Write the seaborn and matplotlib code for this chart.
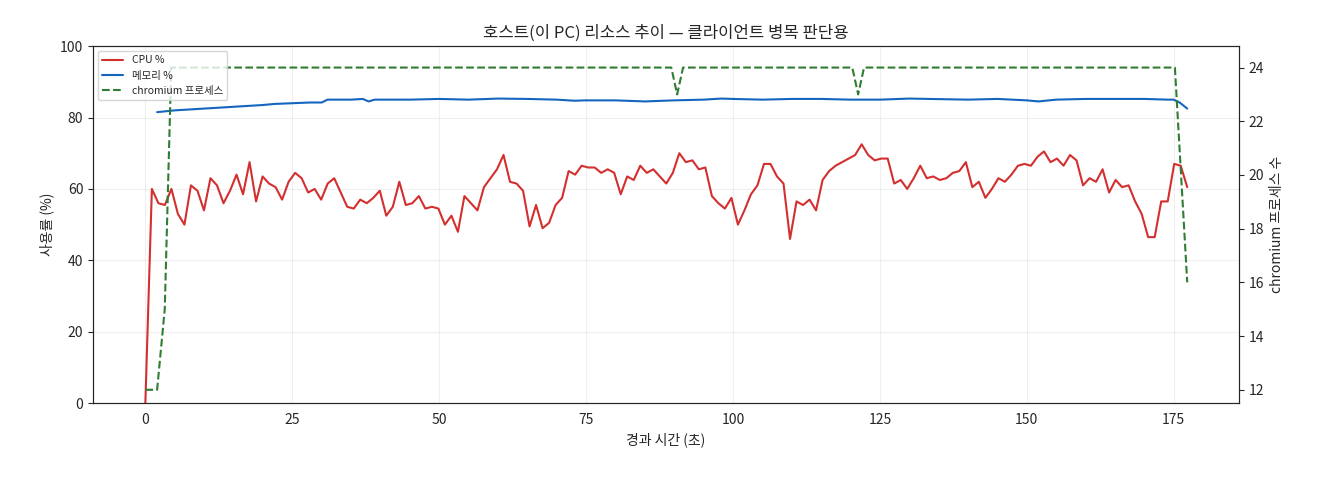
import numpy as np
import matplotlib
matplotlib.use("Agg")
import matplotlib.pyplot as plt
import seaborn as sns

sns.set_style("white")
plt.rcParams['font.family'] = ['Noto Sans CJK KR', 'DejaVu Sans']

cpu = [0, 60, 56, 55.5, 60, 53, 50, 61, 59.5, 54, 63, 61, 56, 59.5, 64, 58.5, 67.5, 56.5, 63.5, 61.5,
       60.5, 57, 62, 64.5, 63, 59, 60, 57, 61.5, 63, 59, 55, 54.5, 57, 56, 57.5, 59.5, 52.5, 55, 62,
       55.5, 56, 58, 54.5, 55, 54.5, 50, 52.5, 48, 58, 56, 54, 60.5, 63, 65.5, 69.5, 62, 61.5, 59.5, 49.5,
       55.5, 49, 50.5, 55.5, 57.5, 65, 64, 66.5, 66, 66, 64.5, 65.5, 64.5, 58.5, 63.5, 62.5, 66.5, 64.5, 65.5, 63.5,
       61.5, 64.5, 70, 67.5, 68, 65.5, 66, 58, 56, 54.5, 57.5, 50, 54, 58.5, 61, 67, 67, 63.5, 61.5, 46,
       56.5, 55.5, 57, 54, 62.5, 65, 66.5, 67.5, 68.5, 69.5, 72.5, 69.5, 68, 68.5, 68.5, 61.5, 62.5, 60, 63, 66.5,
       63, 63.5, 62.5, 63, 64.5, 65, 67.5, 60.5, 62, 57.5, 60, 63, 62, 64, 66.5, 67, 66.5, 69, 70.5, 67.5,
       68.5, 66.5, 69.5, 68, 61, 63, 62, 65.5, 59, 62.5, 60.5, 61, 56.5, 53, 46.5, 46.5, 56.5, 56.5, 67, 66.5, 60.5]
cpu_t = np.linspace(0, 177.3, len(cpu))

mem_t = [2, 5, 10, 15, 20, 22, 25, 28, 30, 31, 35, 37, 38, 39, 40, 45, 50, 55, 60, 65, 70, 73, 75, 80, 85,
         90, 95, 98, 100, 105, 110, 115, 120, 125, 130, 140, 145, 150, 152, 155, 160, 165, 170, 174, 175, 176, 177.3]
mem = [81.5, 82, 82.5, 83, 83.5, 83.8, 84, 84.2, 84.2, 85, 85, 85.2, 84.5, 85, 85, 85, 85.2, 85, 85.3, 85.2, 85, 84.7, 84.8, 84.8, 84.5,
       84.8, 85, 85.3, 85.2, 85, 85.2, 85.2, 85, 85, 85.3, 85, 85.2, 84.8, 84.5, 85, 85.2, 85.2, 85.2, 85, 85, 84.2, 82.5]

proc_t = [0, 2, 3.3, 4.4, 89.5, 90.5, 91.5, 120.3, 121.3, 122.3, 175.2, 177.3]
proc = [12, 12, 15, 24, 24, 23, 24, 24, 23, 24, 24, 16]

fig, ax = plt.subplots(figsize=(13.2, 4.8), dpi=100)
sns.lineplot(x=cpu_t, y=cpu, ax=ax, color="#d32f2f", lw=1.5, label="CPU %", legend=False)
sns.lineplot(x=mem_t, y=mem, ax=ax, color="#1565c0", lw=1.5, label="메모리 %", legend=False)
ax2 = ax.twinx()
sns.lineplot(x=proc_t, y=proc, ax=ax2, color="#2e7d32", lw=1.5, ls="--", label="chromium 프로세스", legend=False)

ax.set_ylim(0, 100)
ax.set_xlim(-8.9, 186.1)
ax2.set_ylim(11.5, 24.8)
ax.grid(True, alpha=0.3)
ax.set_xlabel("경과 시간 (초)")
ax.set_ylabel("사용률 (%)")
ax2.set_ylabel("chromium 프로세스 수")
ax.set_title("호스트(이 PC) 리소스 추이 — 클라이언트 병목 판단용")
h1, l1 = ax.get_legend_handles_labels()
h2, l2 = ax2.get_legend_handles_labels()
ax2.legend(h1 + h2, l1 + l2, loc="upper left", fontsize=7.5)
fig.subplots_adjust(left=0.0705, right=0.9386, top=0.904, bottom=0.16)
fig.savefig("out.png", dpi=100)
